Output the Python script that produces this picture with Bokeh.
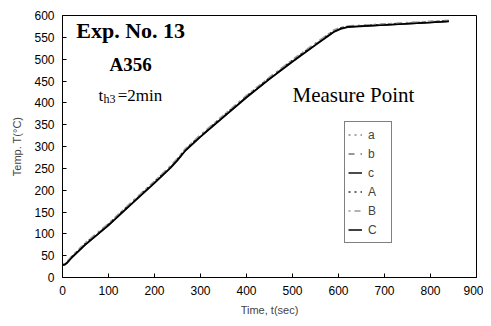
from bokeh.plotting import figure
from bokeh.models import Label, Legend, LegendItem, FixedTicker
from bokeh.embed import file_html
from bokeh.resources import INLINE

# time (sec)
t = [0, 5, 10, 20, 50, 100, 150, 200, 235, 250, 267, 300, 350, 400, 450, 500, 550, 590, 605, 620, 700, 750, 800, 840]
# temperatures for each measure point (deg C)
T_a = [30, 31, 36, 48, 79, 123, 172, 220, 255, 272, 294, 326, 371, 416, 458, 498, 536, 566, 572, 575, 580, 583, 586, 588]
T_b = [29, 30, 35, 46, 77, 121, 170, 218, 253, 270, 292, 324, 369, 414, 456, 496, 534, 564, 570, 574, 579, 582, 585, 587]
T_c = [28, 29, 33, 45, 75, 119, 168, 216, 251, 268, 290, 322, 367, 412, 454, 494, 532, 562, 569, 573, 578, 581, 584, 586]
T_A = [30, 31, 35, 47, 78, 122, 171, 219, 254, 271, 293, 325, 370, 415, 457, 497, 535, 565, 571, 575, 579, 582, 585, 588]
T_B = [31, 32, 37, 49, 80, 124, 173, 221, 256, 273, 295, 327, 372, 417, 459, 499, 537, 567, 573, 576, 581, 584, 587, 589]
T_C = [29, 30, 34, 46, 76, 120, 169, 217, 252, 269, 291, 323, 368, 413, 455, 495, 533, 563, 570, 574, 578, 581, 584, 587]

series_names = ["a", "b", "c", "A", "B", "C"]
series_vals = [T_a, T_b, T_c, T_A, T_B, T_C]
series_color = ["#888888", "#777777", "#111111", "#333333", "#999999", "#000000"]
series_dash = ["dotted", "dashed", "solid", "dotted", "dotdash", "solid"]

x_ticks = [0, 100, 200, 300, 400, 500, 600, 700, 800, 900]
y_ticks = [0, 50, 100, 150, 200, 250, 300, 350, 400, 450, 500, 550, 600]

p = figure(width=483, height=318, x_range=(0, 900), y_range=(0, 600),
           output_backend="svg", toolbar_location=None,
           min_border_left=62, min_border_right=7, min_border_top=15, min_border_bottom=40)
p.background_fill_color = "white"
p.outline_line_color = "black"
p.outline_line_width = 1
p.xgrid.visible = False
p.ygrid.visible = False

items = []
for name, vals, col, dash in zip(series_names, series_vals, series_color, series_dash):
    r = p.line(t, vals, line_color=col, line_dash=dash, line_width=1.5)
    items.append(LegendItem(label=name, renderers=[r]))

legend = Legend(items=items, location=(282, 34), orientation="vertical",
                border_line_color="black", border_line_width=1,
                background_fill_alpha=0, padding=3, spacing=0, margin=0,
                glyph_width=14, glyph_height=19, label_height=19, label_standoff=6,
                label_text_font="Liberation Sans", label_text_font_size="12px")
p.add_layout(legend, "center")

for ax in (p.xaxis, p.yaxis):
    ax.major_tick_in = 4
    ax.major_tick_out = 0
    ax.minor_tick_line_color = None
    ax.major_label_text_font = "Liberation Sans"
    ax.major_label_text_font_size = "12px"
    ax.major_label_text_color = "black"
    ax.axis_label_text_font = "Liberation Sans"
    ax.axis_label_text_font_size = "11px"
    ax.axis_label_text_font_style = "normal"
    ax.axis_line_color = "black"
p.xaxis.ticker = FixedTicker(ticks=x_ticks)
p.yaxis.ticker = FixedTicker(ticks=y_ticks)
p.xaxis.major_label_standoff = 8
p.yaxis.major_label_standoff = 8
p.xaxis.axis_label = "Time, t(sec)"
p.yaxis.axis_label = "Temp. T(\u00b0C)"
p.xaxis.axis_label_standoff = 6
p.yaxis.axis_label_standoff = 8

serif = "Liberation Serif"
p.add_layout(Label(x=30, y=537, text="Exp. No. 13", text_font=serif, text_font_size="22px",
                   text_font_style="bold", text_color="black"))
p.add_layout(Label(x=148, y=464, text="A356", text_font=serif, text_font_size="19px",
                   text_font_style="bold", text_color="black", text_align="center"))
p.add_layout(Label(x=78, y=395, text="t", text_font=serif, text_font_size="17px", text_color="black"))
p.add_layout(Label(x=89, y=393, text="h3", text_font=serif, text_font_size="12px", text_color="black"))
p.add_layout(Label(x=120, y=395, text="=2min", text_font=serif, text_font_size="17px", text_color="black"))
p.add_layout(Label(x=500, y=390, text="Measure Point", text_font=serif, text_font_size="21px",
                   text_color="black"))

open("out.html", "w").write(file_html(p, INLINE))
